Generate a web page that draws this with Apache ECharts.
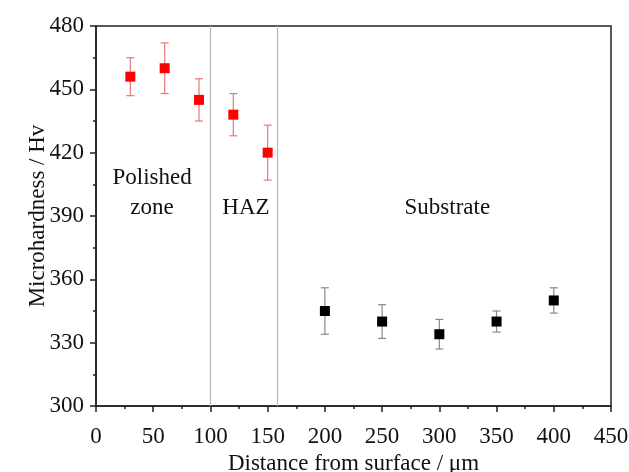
<!DOCTYPE html>
<html>
<head>
<meta charset="utf-8">
<script src="https://cdn.jsdelivr.net/npm/echarts@6/dist/echarts.min.js"></script>
<style>
html,body{margin:0;padding:0;background:#fff;}
#chart{width:629px;height:472px;}
</style>
</head>
<body>
<div id="chart"></div>
<script>
// Polished zone + HAZ (red)
var redX = [30, 60, 90, 120, 150];
var redY = [456, 460, 445, 438, 420];
var redLow = [447, 448, 435, 428, 407];
var redHigh = [465, 472, 455, 448, 433];
// Substrate (black)
var blackX = [200, 250, 300, 350, 400];
var blackY = [345, 340, 334, 340, 350];
var blackLow = [334, 332, 327, 335, 344];
var blackHigh = [356, 348, 341, 345, 356];
// zone boundaries
var boundaries = [100, 158];
// annotations
var notes = [
  {text: 'Polished\nzone', x: 49, y: 401},
  {text: 'HAZ', x: 131, y: 394},
  {text: 'Substrate', x: 307, y: 394}
];
var xTicks = {min: 0, max: 450, interval: 50};
var yTicks = {min: 300, max: 480, interval: 30};

var FONT = 'Liberation Serif';
var TXT = '#111';
var chart = echarts.init(document.getElementById('chart'));

function pts(xs, ys) { return xs.map(function (x, i) { return [x, ys[i]]; }); }
function errs(xs, lo, hi) { return xs.map(function (x, i) { return [x, lo[i], hi[i]]; }); }

function errRender(color) {
  return function (params, api) {
    var x = api.value(0);
    var lo = api.coord([x, api.value(1)]);
    var hi = api.coord([x, api.value(2)]);
    var w = 4;
    var st = {stroke: color, lineWidth: 1.2, fill: null};
    return {
      type: 'group',
      children: [
        {type: 'line', shape: {x1: lo[0], y1: lo[1], x2: hi[0], y2: hi[1]}, style: st},
        {type: 'line', shape: {x1: lo[0] - w, y1: lo[1], x2: lo[0] + w, y2: lo[1]}, style: st},
        {type: 'line', shape: {x1: hi[0] - w, y1: hi[1], x2: hi[0] + w, y2: hi[1]}, style: st}
      ]
    };
  };
}

var axisCommon = {
  axisLine: {show: true, onZero: false, lineStyle: {color: '#222', width: 1.5}},
  axisTick: {show: true, inside: false, length: 6, lineStyle: {color: '#222', width: 1.5}},
  minorTick: {show: true, splitNumber: 2, length: 3, lineStyle: {color: '#222', width: 1.5}},
  splitLine: {show: false},
  minorSplitLine: {show: false}
};

chart.setOption({
  animation: false,
  backgroundColor: '#fff',
  grid: {left: 96, right: 18, top: 26, bottom: 66, containLabel: false, outerBoundsMode: 'none',
    show: true, borderColor: '#222', borderWidth: 1.5, backgroundColor: 'transparent'},
  xAxis: Object.assign({
    type: 'value', min: xTicks.min, max: xTicks.max, interval: xTicks.interval,
    name: 'Distance from surface / μm', nameLocation: 'middle', nameGap: 45,
    nameTextStyle: {fontFamily: FONT, fontSize: 23, color: TXT},
    axisLabel: {fontFamily: FONT, fontSize: 23, color: TXT, margin: 19}
  }, axisCommon),
  yAxis: Object.assign({
    type: 'value', min: yTicks.min, max: yTicks.max, interval: yTicks.interval,
    name: 'Microhardness / Hv', nameLocation: 'middle', nameGap: 47, nameMoveOverlap: false,
    nameTextStyle: {fontFamily: FONT, fontSize: 23, color: TXT},
    axisLabel: {fontFamily: FONT, fontSize: 23, color: TXT, margin: 12}
  }, axisCommon),
  series: [
    {
      type: 'custom', renderItem: errRender('#e87878'), data: errs(redX, redLow, redHigh),
      encode: {x: 0, y: [1, 2]}, z: 2, silent: true
    },
    {
      type: 'custom', renderItem: errRender('#8a8a8a'), data: errs(blackX, blackLow, blackHigh),
      encode: {x: 0, y: [1, 2]}, z: 2, silent: true
    },
    {
      type: 'scatter', data: pts(redX, redY), symbol: 'rect', symbolSize: 10,
      itemStyle: {color: '#ff0000', opacity: 1}, z: 3,
      markLine: {
        silent: true, symbol: ['none', 'none'], label: {show: false},
        lineStyle: {color: '#b8b8b8', width: 1.2, type: 'solid'},
        data: boundaries.map(function (b) { return {xAxis: b}; })
      }
    },
    {
      type: 'scatter', data: pts(blackX, blackY), symbol: 'rect', symbolSize: 10,
      itemStyle: {color: '#000', opacity: 1}, z: 3
    },
    {
      type: 'scatter', symbolSize: 0, silent: true,
      itemStyle: {opacity: 1},
      data: notes.map(function (n) { return {value: [n.x, n.y], name: n.text}; }),
      label: {show: true, position: 'inside', formatter: function (p) { return p.name; },
        fontFamily: FONT, fontSize: 23, color: TXT, lineHeight: 30, align: 'center', verticalAlign: 'middle'}
    }
  ]
});
</script>
</body>
</html>
